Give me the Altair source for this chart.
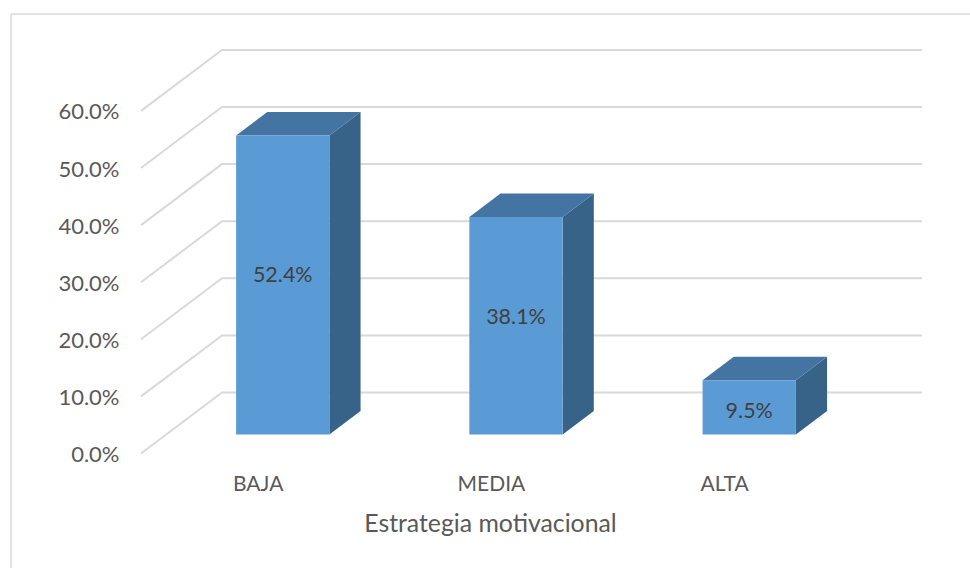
import json
import altair as alt
import pandas as pd

categories = ["BAJA", "MEDIA", "ALTA"]
percentages = [52.4, 38.1, 9.5]
tick_values = [0, 10, 20, 30, 40, 50, 60]

# Oblique projection used to fake the 3D box: a point at depth d (0 = front, 1 = back wall)
# is shifted right and up by a fixed share of the data units.
PLOT_W, PLOT_H = 781, 403.5
UNIT_X, UNIT_Y = 233.25, 5.71
DEPTH_X, DEPTH_Y = 81 / UNIT_X, 61 / UNIT_Y
X_MAX, Y_MAX = PLOT_W / UNIT_X, PLOT_H / UNIT_Y
BAR_HALF = 0.2
D_FRONT, D_BACK = 0.31, 0.695


def px(x, depth):
    return x + depth * DEPTH_X


def py(v, depth):
    return v + depth * DEPTH_Y


grid_rows = []
for t in tick_values:
    grid_rows += [
        {"tick": t, "order": 0, "x": 0, "y": py(t, 0)},
        {"tick": t, "order": 1, "x": px(0, 1), "y": py(t, 1)},
        {"tick": t, "order": 2, "x": X_MAX, "y": py(t, 1)},
    ]

front_rows, side_rows, top_rows, label_rows = [], [], [], []
# Share of each front face's height at which its value label sits
label_share = {"BAJA": 0.53, "MEDIA": 0.535, "ALTA": 0.42}
for i, (cat, v) in enumerate(zip(categories, percentages)):
    left, right = i + 0.5 - BAR_HALF, i + 0.5 + BAR_HALF
    front_rows.append({
        "cat": cat,
        "x": px(left, D_FRONT), "x2": px(right, D_FRONT),
        "y": py(0, D_FRONT), "y2": py(v, D_FRONT),
    })
    side_rows += [
        {"cat": cat, "x": px(right, D_FRONT), "y": py(0, D_FRONT), "y2": py(v, D_FRONT)},
        {"cat": cat, "x": px(right, D_BACK), "y": py(0, D_BACK), "y2": py(v, D_BACK)},
    ]
    top_rows += [
        {"cat": cat, "x": px(left, D_FRONT), "y": py(v, D_FRONT), "y2": py(v, D_FRONT)},
        {"cat": cat, "x": px(left, D_BACK), "y": py(v, D_FRONT), "y2": py(v, D_BACK)},
        {"cat": cat, "x": px(right, D_FRONT), "y": py(v, D_FRONT), "y2": py(v, D_BACK)},
        {"cat": cat, "x": px(right, D_BACK), "y": py(v, D_BACK), "y2": py(v, D_BACK)},
    ]
    label_rows.append({
        "x": px(i + 0.5, D_FRONT),
        "y": py(v * label_share[cat], D_FRONT),
        "label": f"{v:.1f}%",
    })

FONT = "Lato"
x_scale = alt.Scale(domain=[0, X_MAX], nice=False, zero=False)
y_scale = alt.Scale(domain=[0, Y_MAX], nice=False, zero=False)

x_axis = alt.Axis(
    values=[i + 0.5 for i in range(len(categories))],
    labelExpr=f"{json.dumps(categories)}[floor(datum.value)]",
    domain=False, ticks=False, grid=False,
    labelFont=FONT, labelFontSize=21, labelColor="#595959", labelPadding=20,
    title="Estrategia motivacional", titleFont=FONT, titleFontSize=24.8,
    titleFontWeight="normal", titleColor="#595959", titleX=349, titleY=71,
    titleBaseline="middle",
)
y_axis = alt.Axis(
    values=tick_values,
    labelExpr="format(datum.value, '.1f') + '%'",
    domain=False, ticks=False, grid=False, labelOffset=1,
    labelFont=FONT, labelFontSize=22, labelColor="#595959", labelPadding=22,
    title=None,
)
X = alt.X("x:Q", scale=x_scale, axis=x_axis)
Y = alt.Y("y:Q", scale=y_scale, axis=y_axis)

grid = alt.Chart(pd.DataFrame(grid_rows)).mark_line(
    color="#D9D9D9", strokeWidth=2
).encode(x=X, y=Y, detail="tick:N", order="order:Q")

side = alt.Chart(pd.DataFrame(side_rows)).mark_area(
    color="#386389", orient="vertical", interpolate="linear"
).encode(x=X, y=Y, y2="y2:Q", detail="cat:N")

top = alt.Chart(pd.DataFrame(top_rows)).mark_area(
    color="#4475A2", orient="vertical", interpolate="linear"
).encode(x=X, y=Y, y2="y2:Q", detail="cat:N")

front = alt.Chart(pd.DataFrame(front_rows)).mark_rect(color="#5B9BD5").encode(
    x=X, x2="x2:Q", y=Y, y2="y2:Q"
)

labels = alt.Chart(pd.DataFrame(label_rows)).mark_text(
    font=FONT, fontSize=21.5, color="#404040", align="center", baseline="middle"
).encode(x=X, y=Y, text="label:N")

# Chart-area outline: only its left and top edges fall inside the page
frame_data = pd.DataFrame({"edge": [0]})
frame_left = alt.Chart(frame_data).mark_rule(color="#D9D9D9", strokeWidth=1.5).encode(
    x=alt.value(-130), y=alt.value(-36), y2=alt.value(518)
)
frame_top = alt.Chart(frame_data).mark_rule(color="#D9D9D9", strokeWidth=1.5).encode(
    x=alt.value(-130), x2=alt.value(829), y=alt.value(-36)
)

chart = alt.layer(
    grid, side, top, front, labels, frame_left, frame_top
).properties(
    width=PLOT_W,
    height=PLOT_H,
    background="white",
    padding={"left": 141, "top": 50, "right": 48, "bottom": 114},
    autosize=alt.AutoSizeParams(type="none"),
).configure_view(stroke=None)

chart.save("out.html", embed_options={"renderer": "svg", "actions": False})
